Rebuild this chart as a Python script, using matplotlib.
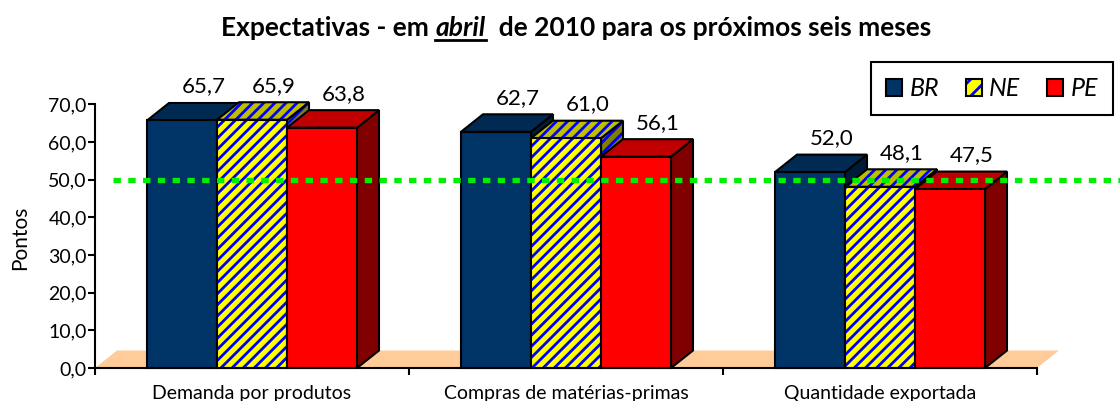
import numpy as np
import matplotlib
matplotlib.use("Agg")
import matplotlib.pyplot as plt
from matplotlib.patches import Polygon, Patch
from matplotlib.lines import Line2D
from matplotlib.legend_handler import HandlerTuple

# Data
categories = ["Demanda por produtos", "Compras de matérias-primas", "Quantidade exportada"]
series_names = ["BR", "NE", "PE"]
br_values = [65.7, 62.7, 52.0]
ne_values = [65.9, 61.0, 48.1]
pe_values = [63.8, 56.1, 47.5]
y_ticks = [0, 10, 20, 30, 40, 50, 60, 70]
reference_level = 50.0

plt.rcParams['font.family'] = ['Lato', 'DejaVu Sans']
plt.rcParams['hatch.linewidth'] = 2.0

FIG_W, FIG_H = 1120, 401
fig = plt.figure(figsize=(FIG_W / 100, FIG_H / 100), dpi=100)

# Axes placed in pixels
x_left, x_right = 95, 1037
y_zero, y_top = 368, 55
px_per_y = 263.7 / 70
px_per_x = (x_right - x_left) / 3
ax = fig.add_axes([x_left / FIG_W, (FIG_H - y_zero) / FIG_H,
                   (x_right - x_left) / FIG_W, (y_zero - y_top) / FIG_H])
ax.set_xlim(-0.5, 2.5)
ax.set_ylim(0, (y_zero - y_top) / px_per_y)

# 3D depth offsets
dx = 22 / px_per_x
dy = 17.5 / px_per_y
bar_width = 70 / px_per_x

# Face colours (front, top, side)
styles = {
    "BR": dict(front='#003366', top='#002A52', side='#001C38', hatch=None),
    "NE": dict(front='#FFFF00', top='#BFBF00', side='#808000', hatch='///'),
    "PE": dict(front='#FF0000', top='#C00000', side='#800000', hatch=None),
}


def add_face(points, color, hatch, zorder):
    if hatch:
        ax.add_patch(Polygon(points, closed=True, facecolor=color, edgecolor='#0000FF',
                             hatch=hatch, linewidth=0, zorder=zorder, clip_on=False))
    else:
        ax.add_patch(Polygon(points, closed=True, facecolor=color, linewidth=0,
                             zorder=zorder, clip_on=False))
    ax.add_patch(Polygon(points, closed=True, fill=False, edgecolor='black',
                         linewidth=1.5, joinstyle='miter', zorder=zorder + 0.01, clip_on=False))


def draw_bar(x0, value, style, zorder):
    x1 = x0 + bar_width
    side = [(x1, 0), (x1 + dx, dy), (x1 + dx, value + dy), (x1, value)]
    top = [(x0, value), (x1, value), (x1 + dx, value + dy), (x0 + dx, value + dy)]
    front = [(x0, 0), (x1, 0), (x1, value), (x0, value)]
    add_face(side, style['side'], style['hatch'], zorder)
    add_face(top, style['top'], style['hatch'], zorder + 0.1)
    add_face(front, style['front'], style['hatch'], zorder + 0.2)


# Floor
floor = [(-0.5, 0), (2.5, 0), (2.5 + dx, dy), (-0.5 + dx, dy)]
ax.add_patch(Polygon(floor, closed=True, facecolor='#FFCC99', linewidth=0, zorder=1, clip_on=False))

all_values = [br_values, ne_values, pe_values]
z = 3
for cat_index in range(len(categories)):
    group_left = cat_index - 1.5 * bar_width
    for series_index, name in enumerate(series_names):
        value = all_values[series_index][cat_index]
        x0 = group_left + series_index * bar_width
        draw_bar(x0, value, styles[name], z)
        z += 1
        label = f"{value:.1f}".replace(".", ",")
        ax.text(x0 + bar_width / 2 + dx, value + 34 / px_per_y, label,
                ha='center', va='center', fontsize=16, zorder=50)

# Green reference line
ax.plot([(113 - x_left) / px_per_x - 0.5, (1120 - x_left) / px_per_x - 0.5],
        [reference_level, reference_level], color='#00EE00', linewidth=3.8,
        linestyle=(0, (1.4, 1.4)), dash_capstyle='butt', zorder=60, clip_on=False)

# Axes styling
for spine in ['top', 'right']:
    ax.spines[spine].set_visible(False)
ax.spines['left'].set_bounds(0, 70)
ax.spines['left'].set_linewidth(1.5)
ax.spines['bottom'].set_linewidth(1.5)
ax.spines['left'].set_zorder(70)
ax.spines['bottom'].set_zorder(70)

ax.set_yticks(y_ticks)
ax.set_yticklabels([f"{t:.1f}".replace(".", ",") for t in y_ticks], fontsize=14)
ax.tick_params(axis='y', direction='out', length=5, width=1.5, pad=1)

ax.set_xticks(range(len(categories)))
ax.set_xticklabels(categories, fontsize=14)
ax.set_xticks([-0.5, 0.5, 1.5, 2.5], minor=True)
ax.tick_params(axis='x', which='major', length=0, pad=12)
ax.tick_params(axis='x', which='minor', direction='out', length=5, width=1.5)

fig.text(20 / FIG_W, 1 - 238 / FIG_H, "Pontos", rotation=90, ha='center', va='center', fontsize=15)

# Legend
br_handle = Patch(facecolor=styles['BR']['front'], edgecolor='black', linewidth=1.5)
ne_fill = Patch(facecolor='#FFFF00', edgecolor='#0000FF', hatch='//', linewidth=0)
ne_edge = Patch(facecolor='none', edgecolor='black', linewidth=1.5)
pe_handle = Patch(facecolor=styles['PE']['front'], edgecolor='black', linewidth=1.5)
leg = fig.legend([br_handle, (ne_fill, ne_edge), pe_handle], series_names,
                 handler_map={tuple: HandlerTuple(ndivide=1, pad=0)},
                 loc='upper right', bbox_to_anchor=(1113 / FIG_W, 1 - 62 / FIG_H),
                 ncol=3, fancybox=False, edgecolor='black', framealpha=1,
                 prop={'style': 'italic', 'size': 18}, handlelength=0.65, handleheight=0.65,
                 handletextpad=0.3, columnspacing=1.05, borderpad=0.6, borderaxespad=0)
leg.get_frame().set_linewidth(1.5)

# Title with underlined word
renderer = fig.canvas.get_renderer()
title_parts = [("Expectativas - em ", 'normal'), ("abril", 'italic'),
               ("  de 2010 para os próximos seis meses", 'normal')]
title_y = 1 - 28 / FIG_H
title_texts = []
widths = []
for part, font_style in title_parts:
    t = fig.text(0, title_y, part, fontsize=19, fontweight='bold', style=font_style,
                 ha='left', va='center')
    title_texts.append(t)
    widths.append(t.get_window_extent(renderer).width)
x_cursor = 576 - sum(widths) / 2
for t, w in zip(title_texts, widths):
    t.set_x(x_cursor / FIG_W)
    if t.get_text() == "abril":
        underline_y = title_y - 12 / FIG_H
        fig.add_artist(Line2D([x_cursor / FIG_W, (x_cursor + w) / FIG_W], [underline_y, underline_y],
                              color='black', linewidth=2.0, transform=fig.transFigure))
    x_cursor += w

fig.savefig("out.png", dpi=100)
